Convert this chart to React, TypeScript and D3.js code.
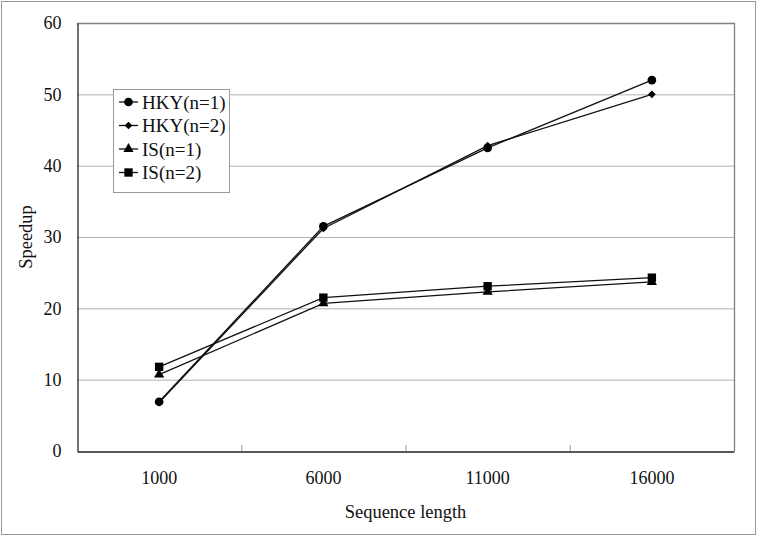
import React, { useEffect, useRef } from 'react';
import * as d3 from 'd3';

const categories = ['1000', '6000', '11000', '16000'];
const hky1 = [6.9, 31.5, 42.5, 52.0];
const hky2 = [6.8, 31.2, 42.8, 50.0];
const is1 = [10.7, 20.7, 22.3, 23.7];
const is2 = [11.8, 21.5, 23.1, 24.3];
const yTicks = [0, 10, 20, 30, 40, 50, 60];

const seriesNames = ['HKY(n=1)', 'HKY(n=2)', 'IS(n=1)', 'IS(n=2)'];
const seriesValues = [hky1, hky2, is1, is2];
const markerShapes = [d3.symbolCircle, d3.symbolSquare, d3.symbolTriangle, d3.symbolSquare];
const markerSizes = [60, 30, 45, 70];
const markerRotate = [0, 45, 0, 0];

const W = 760, H = 536;
const FONT = '"Liberation Serif", "Times New Roman", serif';

export default function App() {
    const ref = useRef<SVGSVGElement>(null);

    useEffect(() => {
        const svg = d3.select(ref.current);
        svg.selectAll('*').remove();

        const left = 77, right = 734, top = 23, bottom = 451;

        const x = d3.scaleBand().domain(categories).range([left, right]);
        const y = d3.scaleLinear().domain([0, 60]).range([bottom, top]);

        svg.append('rect')
            .attr('x', 1.5).attr('y', 1.5)
            .attr('width', 754).attr('height', 533)
            .attr('fill', '#fff').attr('stroke', '#999');

        // gridlines
        svg.append('g')
            .selectAll('line')
            .data(yTicks.filter((t) => t > 0 && t < 60))
            .enter()
            .append('line')
            .attr('x1', left).attr('x2', right)
            .attr('y1', (d) => y(d) + 0.5).attr('y2', (d) => y(d) + 0.5)
            .attr('stroke', '#b0b0b0').attr('stroke-width', 1);

        // plot frame top/right
        svg.append('path')
            .attr('d', `M${left},${top + 0.5}H${right + 0.5}V${bottom}`)
            .attr('fill', 'none').attr('stroke', '#808080').attr('stroke-width', 1.3);

        // y axis
        const yAxis = svg.append('g')
            .attr('transform', `translate(${left + 0.5},0)`)
            .call(d3.axisLeft(y).tickValues(yTicks).tickSize(0).tickPadding(16));
        yAxis.select('.domain').attr('stroke', '#222').attr('stroke-width', 1.3);
        yAxis.selectAll('text').attr('font-family', FONT).attr('font-size', 18).attr('fill', '#111');

        // x axis
        const xAxis = svg.append('g')
            .attr('transform', `translate(0,${bottom + 0.5})`)
            .call(d3.axisBottom(x).tickSize(0).tickPadding(20));
        xAxis.select('.domain').attr('stroke', '#222').attr('stroke-width', 1.3);
        xAxis.selectAll('text').attr('font-family', FONT).attr('font-size', 18).attr('fill', '#111');

        // inward tick marks at category boundaries
        svg.append('g')
            .selectAll('line')
            .data(categories.slice(1))
            .enter()
            .append('line')
            .attr('x1', (d) => (x(d) as number) + 0.5).attr('x2', (d) => (x(d) as number) + 0.5)
            .attr('y1', bottom).attr('y2', bottom - 6)
            .attr('stroke', '#999');

        // series
        const line = d3.line<number>()
            .x((_, i) => (x(categories[i]) as number) + x.bandwidth() / 2)
            .y((d) => y(d));

        seriesValues.forEach((vals, s) => {
            svg.append('path')
                .datum(vals)
                .attr('d', line)
                .attr('fill', 'none')
                .attr('stroke', '#111')
                .attr('stroke-width', 1.3);

            svg.append('g')
                .selectAll('path')
                .data(vals)
                .enter()
                .append('path')
                .attr('transform', (d, i) => `translate(${(x(categories[i]) as number) + x.bandwidth() / 2},${y(d)}) rotate(${markerRotate[s]})`)
                .attr('d', d3.symbol().type(markerShapes[s]).size(markerSizes[s])())
                .attr('fill', '#000');
        });

        // legend
        const lg = svg.append('g').attr('transform', 'translate(113,89)');
        lg.append('rect')
            .attr('x', 0.5).attr('y', 0.5)
            .attr('width', 116).attr('height', 103)
            .attr('fill', '#fff').attr('stroke', '#999');
        seriesNames.forEach((name, s) => {
            const cy = 13 + s * 23.5;
            lg.append('line')
                .attr('x1', 6).attr('x2', 25)
                .attr('y1', cy).attr('y2', cy)
                .attr('stroke', '#111').attr('stroke-width', 1.3);
            lg.append('path')
                .attr('transform', `translate(15.5,${cy}) rotate(${markerRotate[s]})`)
                .attr('d', d3.symbol().type(markerShapes[s]).size(markerSizes[s])())
                .attr('fill', '#000');
            lg.append('text')
                .attr('x', 29).attr('y', cy)
                .attr('dy', '0.35em')
                .attr('font-family', FONT).attr('font-size', 19).attr('fill', '#111')
                .text(name);
        });

        // axis titles
        svg.append('text')
            .attr('x', (left + right) / 2).attr('y', 518)
            .attr('text-anchor', 'middle')
            .attr('font-family', FONT).attr('font-size', 18.5).attr('fill', '#111')
            .text('Sequence length');

        svg.append('text')
            .attr('transform', `translate(32,${(top + bottom) / 2}) rotate(-90)`)
            .attr('text-anchor', 'middle')
            .attr('font-family', FONT).attr('font-size', 18.5).attr('fill', '#111')
            .text('Speedup');
    }, []);

    return (
        <svg ref={ref} width={W} height={H}
            style={{ position: 'absolute', left: 0, top: 0, background: '#fff' }} />
    );
}
